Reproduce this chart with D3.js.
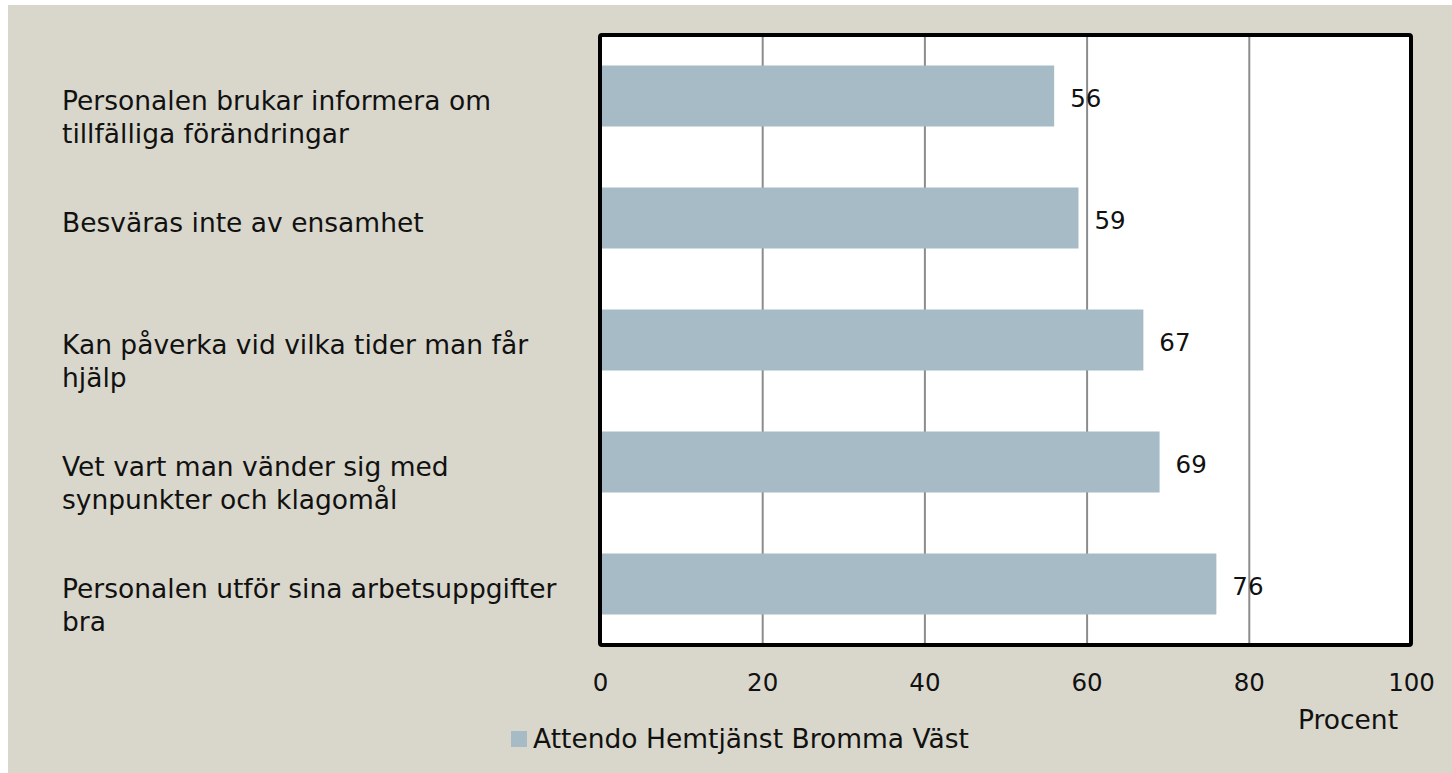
<!DOCTYPE html>
<html><head><meta charset="utf-8">
<script src="https://cdn.jsdelivr.net/npm/d3@7"></script>
<style>body{margin:0;background:#fff;} svg{display:block;} text{font-family:"DejaVu Sans",sans-serif;fill:#111;}</style>
</head><body><svg id="c" width="1452" height="773"></svg>
<script>
const categories = [
  ["Personalen brukar informera om", "tillfälliga förändringar"],
  ["Besväras inte av ensamhet"],
  ["Kan påverka vid vilka tider man får", "hjälp"],
  ["Vet vart man vänder sig med", "synpunkter och klagomål"],
  ["Personalen utför sina arbetsuppgifter", "bra"]
];
const values = [56, 59, 67, 69, 76];
const ticks = [0, 20, 40, 60, 80, 100];
const seriesName = "Attendo Hemtjänst Bromma Väst";
const axisTitle = "Procent";

const FS = 24.5, FL = 26.5;
const svg = d3.select("#c");
svg.append("rect").attr("x", 8).attr("y", 5).attr("width", 1444).attr("height", 768).attr("fill", "#d9d7cb");

const L = 600, R = 1411, T = 35, B = 645;
const x = d3.scaleLinear().domain([0, 100]).range([L, R]);
const y = d3.scaleBand().domain(d3.range(categories.length)).range([T, B]).paddingInner(0.5).paddingOuter(0.25);

svg.append("rect").attr("x", L).attr("y", T).attr("width", R - L).attr("height", B - T).attr("fill", "#fff");

const grid = d3.axisBottom(x).tickValues(ticks.slice(1, -1)).tickSize(-(B - T)).tickFormat("");
svg.append("g").attr("transform", `translate(0,${B})`).call(grid)
  .call(g => g.select(".domain").remove())
  .call(g => g.selectAll("line").attr("stroke", "#8c8c8c").attr("stroke-width", 2));

svg.append("g").selectAll("rect").data(values).join("rect")
  .attr("x", x(0)).attr("y", (d, i) => y(i)).attr("width", d => x(d) - x(0)).attr("height", y.bandwidth())
  .attr("fill", "#a6bbc5");

svg.append("rect").attr("x", L).attr("y", T).attr("width", R - L).attr("height", B - T)
  .attr("fill", "none").attr("stroke", "#000").attr("stroke-width", 4).attr("rx", 2);

svg.append("g").selectAll("text").data(values).join("text")
  .attr("x", d => x(d) + 16).attr("y", (d, i) => y(i) + y.bandwidth() / 2 + 2)
  .attr("dy", "0.35em").attr("font-size", FS).text(d => d);

const xa = d3.axisBottom(x).tickValues(ticks).tickSize(0).tickPadding(29);
svg.append("g").attr("transform", `translate(0,${B})`).call(xa)
  .call(g => g.select(".domain").remove())
  .call(g => g.selectAll("text").attr("font-size", FS).attr("font-family", "DejaVu Sans").attr("fill", "#111"));

const lab = svg.append("g").selectAll("text").data(categories).join("text")
  .attr("x", 62).attr("y", (d, i) => y(i) + y.bandwidth() / 2 + 5).attr("font-size", FL);
lab.selectAll("tspan").data(d => d).join("tspan")
  .attr("x", 62).attr("dy", (d, j) => j === 0 ? "0.35em" : "1.25em").text(d => d);

svg.append("text").attr("x", 1348).attr("y", 720).attr("dy", "0.35em").attr("text-anchor", "middle")
  .attr("font-size", FL).text(axisTitle);

svg.append("rect").attr("x", 511).attr("y", 731).attr("width", 16).attr("height", 16).attr("fill", "#a6bbc5");
svg.append("text").attr("x", 533).attr("y", 739).attr("dy", "0.35em").attr("font-size", FL).text(seriesName);
</script></body></html>
